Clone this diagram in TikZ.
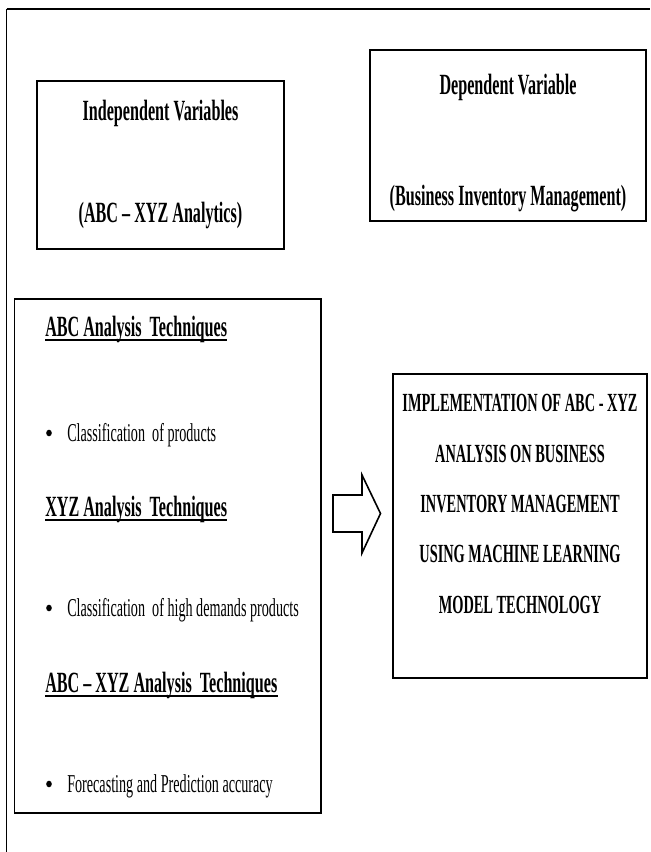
\documentclass[tikz,border=0pt]{standalone}
\usepackage{fontspec}
\setmainfont[FakeStretch=0.55]{Liberation Serif}
\begin{document}
\begin{tikzpicture}[x=0.75pt,y=-0.75pt,
  boxline/.style={line width=1.3pt},
  hline/.style={line width=2pt},
  topfont/.style={inner sep=0pt,font=\fontsize{22}{26}\selectfont\bfseries},
  headfont/.style={inner sep=0pt,font=\fontsize{22}{26}\selectfont\bfseries},
  itemfont/.style={inner sep=0pt,font=\fontsize{19.3}{23}\selectfont},
  capfont/.style={inner sep=0pt,font=\fontsize{19.6}{24}\selectfont\bfseries},
  uline/.style={line width=1.5pt},
  bulletdot/.style={fill=black},
  blockarrow/.style={line width=1.2pt,line join=miter}]
\useasboundingbox (0,0) rectangle (650,852);
\fill[white] (0,0) rectangle (650,852);
% outer frame
\coordinate (frameTL) at (6.5,9);
\coordinate (frameTR) at (650,9);
\coordinate (frameBL) at (6.5,852);
\draw[line width=2.2pt] (frameTL) -- (frameTR);
\draw[line width=1.1pt] (frameTL) -- (frameBL);
% box corners
\coordinate (ivNW) at (37,81);   \coordinate (ivSE) at (284,249);
\coordinate (dvNW) at (370,50);  \coordinate (dvSE) at (646,221);
\coordinate (lbNW) at (14.5,299); \coordinate (lbSE) at (321,813);
\coordinate (rbNW) at (393,374); \coordinate (rbSE) at (647,678);
\foreach \b in {iv,dv,lb,rb}{
  \draw[boxline] (\b NW) rectangle (\b SE);
  \draw[hline] (\b NW) -- (\b NW -| \b SE);
  \draw[hline] (\b SE -| \b NW) -- (\b SE);
}
% independent variables
\node[topfont,anchor=base] (ivtitle) at (160.5,121) {Independent Variables};
\node[topfont,anchor=base] (ivsub) at (160.5,223) {(ABC – XYZ Analytics)};
% dependent variable
\node[topfont,anchor=base] (dvtitle) at (508,95) {Dependent Variable};
\node[topfont,anchor=base] (dvsub) at (508,205) {(Business Inventory Management)};
% left box content
\node[headfont,anchor=base west] (h1) at (45,336) {ABC Analysis\ \ Techniques};
\node[itemfont,anchor=base west] (t1) at (67,441) {Classification\ \ of products};
\node[headfont,anchor=base west] (h2) at (45,516) {XYZ Analysis\ \ Techniques};
\node[itemfont,anchor=base west] (t2) at (67,616) {Classification\ \ of high demands products};
\node[headfont,anchor=base west] (h3) at (45,692) {ABC – XYZ Analysis\ \ Techniques};
\node[itemfont,anchor=base west] (t3) at (67,792) {Forecasting and Prediction accuracy};
\foreach \h in {h1,h2,h3}{
  \draw[uline] ([yshift=-3.2pt]\h.base west) -- ([yshift=-3.2pt]\h.base east);
}
% bullets
\foreach \t in {t1,t2,t3}{
  \fill[bulletdot] ([xshift=-13.5pt,yshift=6pt]\t.base west) ellipse [x radius=2.1pt, y radius=2.5pt];
}
% arrow
\draw[blockarrow] (333,495) -- (362,495) -- (362,475) -- (380.5,513.5) -- (362,553) -- (362,532) -- (333,532) -- cycle;
% right box content
\node[capfont,anchor=base] (r1) at (520,411) {IMPLEMENTATION OF ABC - XYZ};
\node[capfont,anchor=base] (r2) at (520,462) {ANALYSIS ON BUSINESS};
\node[capfont,anchor=base] (r3) at (520,512) {INVENTORY MANAGEMENT};
\node[capfont,anchor=base] (r4) at (520,562) {USING MACHINE LEARNING};
\node[capfont,anchor=base] (r5) at (520,613) {MODEL TECHNOLOGY};
\end{tikzpicture}
\end{document}
